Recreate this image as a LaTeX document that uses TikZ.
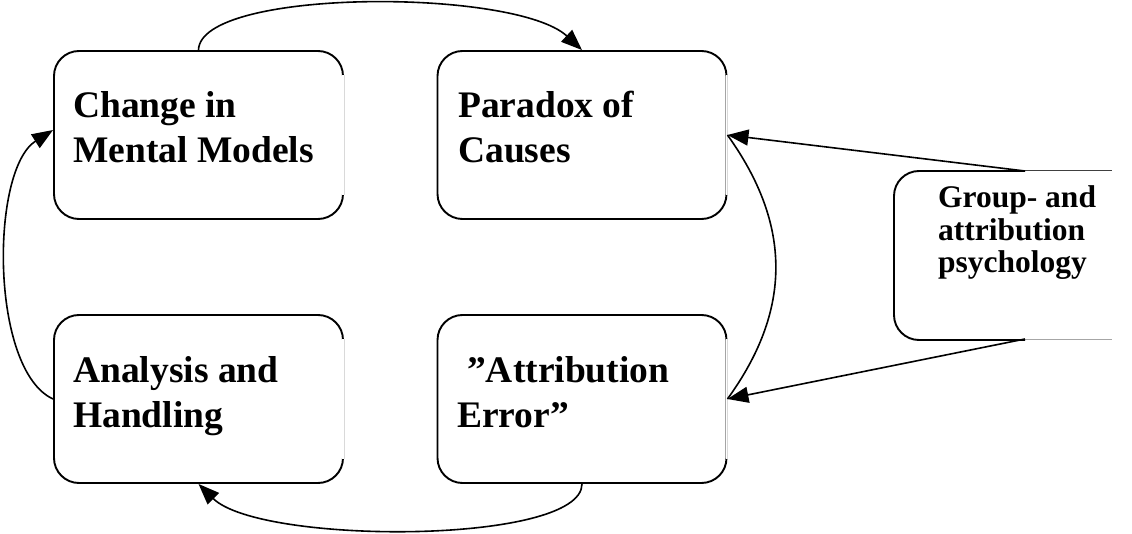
\documentclass[tikz,border=0pt]{standalone}
\usepackage{fontspec}
\setmainfont{Liberation Serif}
\usetikzlibrary{arrows.meta}

\tikzset{
  box/.style={rectangle, rounded corners=25pt, draw=black, line width=1.9pt,
              minimum width=289pt, minimum height=168pt, inner sep=0pt},
  edgeR/.style={draw=black!15, line width=0.6pt},
  label/.style={anchor=base west, inner sep=0pt, align=left,
                font=\bfseries\fontsize{37.5}{45}\selectfont},
  smalllabel/.style={anchor=base west, inner sep=0pt, align=left,
                font=\bfseries\fontsize{31.5}{32.5}\selectfont},
  link/.style={line width=1.6pt, draw=black},
  arr/.style={link, -{Triangle[length=21pt, width=16pt]}}
}

\begin{document}
\begin{tikzpicture}[x=1pt, y=-1pt]
  \useasboundingbox (0,0) rectangle (1132,534);

  % the four rounded boxes
  \node[box] (mm) at (198.5,135) {};
  \node[box] (pc) at (582,135) {};
  \node[box] (ah) at (198.5,399) {};
  \node[box] (ae) at (582,399) {};

  % faint right-hand sides of the boxes
  \foreach \b in {mm,pc,ah,ae} {
    \draw[white, line width=3pt] ([yshift=-25pt]\b.north east) -- ([yshift=25pt]\b.south east);
    \draw[edgeR] ([yshift=-25pt]\b.north east) -- ([yshift=25pt]\b.south east);
  }

  % open box on the right
  \coordinate (gpT) at (1025,171);
  \coordinate (gpB) at (1025,339);
  \draw[line width=1.9pt, rounded corners=25pt] (gpT) -- (894,171) -- (894,340) -- (1025,340);
  \draw[line width=1pt, black!75] (gpT) -- (1112,171);
  \draw[line width=1pt, black!35] (1025,340) -- (1112,340);

  % texts (anchored at the baseline of the last line)
  \node[label] (t1) at (73,163) {Change in\\Mental Models};
  \node[label] (t2) at (458,163) {Paradox of\\Causes};
  \node[label] (t3) at (73,427) {Analysis and\\Handling};
  \node[label] (t4) at (457,427) {\hspace{10pt}”Attribution\\Error”};
  \node[smalllabel] (t5) at (938,273) {Group- and\\attribution\\psychology};

  % connectors
  \draw[arr] (mm.north) .. controls (200,-12) and (515,-12) .. (pc.north);
  \draw[arr] (gpT) -- (pc.east);
  \draw[arr] (gpB) -- (ae.east);
  \draw[link] (pc.east) .. controls (792,225) and (792,310) .. (ae.east);
  \draw[arr] (ah.west) .. controls (-10,370) and (-10,170) .. ([yshift=5pt]mm.west);
  \draw[arr] (ae.south) .. controls (582,545) and (260,545) .. (ah.south);
\end{tikzpicture}
\end{document}
